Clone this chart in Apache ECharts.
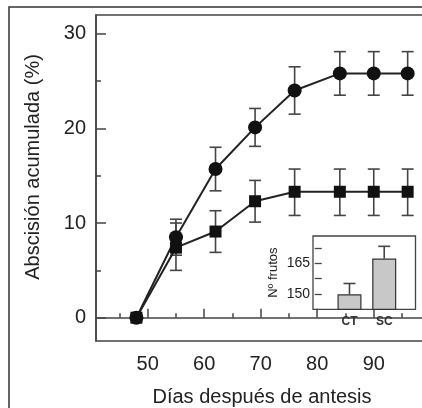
<!DOCTYPE html>
<html>
<head>
<meta charset="utf-8">
<script src="https://cdn.jsdelivr.net/npm/echarts@6/dist/echarts.min.js"></script>
<style>
html, body { margin: 0; padding: 0; background: #fff; }
#chart { width: 422px; height: 408px; }
</style>
</head>
<body>
<div id="chart"></div>
<script>
// días después de antesis
var days = [48, 55, 62, 69, 76, 84, 90, 96];

// serie de círculos
var roundMean = [0, 8.5, 15.7, 20.1, 24.0, 25.8, 25.8, 25.8];
var roundLow  = [0, 6.6, 13.4, 18.1, 21.5, 23.5, 23.5, 23.5];
var roundHigh = [0, 10.4, 18.0, 22.1, 26.5, 28.1, 28.1, 28.1];

// serie de cuadrados
var squareMean = [0, 7.4, 9.1, 12.3, 13.3, 13.3, 13.3, 13.3];
var squareLow  = [0, 5.0, 6.9, 10.1, 10.8, 10.8, 10.8, 10.8];
var squareHigh = [0, 10.0, 11.3, 14.5, 15.7, 15.7, 15.7, 15.7];

// recuadro: nº de frutos
var insetCats = ['CT', 'SC'];
var insetMean = [150, 167.3];
var insetHigh = [155.2, 173.2];

var xMajor = [50, 60, 70, 80, 90];
var xMinor = [45, 55, 65, 75, 85, 95];
var yMajor = [0, 10, 20, 30];
var yMinor = [5, 15, 25];
var insetTicks = [150, 157.5, 165, 172.5];
var insetLabels = [150, 165];

var FONT = 'Liberation Sans';

function pairs(xs, ys) {
	return xs.map(function (x, i) { return [x, ys[i]]; });
}
function triples(xs, lo, hi) {
	return xs.map(function (x, i) { return [x, lo[i], hi[i]]; });
}

function errorBar(capHalf, lowerCap, color) {
	return function (params, api) {
		var x = api.value(0);
		var lo = api.coord([x, api.value(1)]);
		var hi = api.coord([x, api.value(2)]);
		var style = { stroke: color, lineWidth: 1.6 };
		var kids = [
			{ type: 'line', shape: { x1: hi[0], y1: hi[1], x2: lo[0], y2: lo[1] }, style: style },
			{ type: 'line', shape: { x1: hi[0] - capHalf, y1: hi[1], x2: hi[0] + capHalf, y2: hi[1] }, style: style }
		];
		if (lowerCap) {
			kids.push({ type: 'line', shape: { x1: lo[0] - capHalf, y1: lo[1], x2: lo[0] + capHalf, y2: lo[1] }, style: style });
		}
		return { type: 'group', children: kids };
	};
}

var axisCol = '#444';
var txtCol = '#222';

var myChart = echarts.init(document.getElementById('chart'));
var option = {
	animation: false,
	backgroundColor: '#fff',
	graphic: [{
		type: 'rect',
		shape: { x: 9, y: 7, width: 440, height: 430 },
		style: { fill: null, stroke: '#333', lineWidth: 1.5 }
	}],
	grid: [
		{ left: 96, top: 15, width: 332, height: 326, outerBoundsMode: 'none', containLabel: false,
			show: true, borderColor: axisCol, borderWidth: 1.5 },
		{ left: 313, top: 236, width: 102.5, height: 73.3, outerBoundsMode: 'none', containLabel: false,
			show: true, borderColor: axisCol, borderWidth: 1.3, backgroundColor: '#fff' }
	],
	xAxis: [{
		gridIndex: 0, type: 'value', min: 40.85, max: 99.6,
		axisLine: { lineStyle: { color: axisCol, width: 1.5 } },
		axisTick: { inside: true, length: 9, customValues: xMajor, lineStyle: { color: axisCol, width: 1.5 } },
		axisLabel: { customValues: xMajor, margin: 13, fontSize: 20, fontFamily: FONT, color: txtCol },
		splitLine: { show: false },
		name: 'Días después de antesis', nameLocation: 'middle', nameGap: 46,
		nameTextStyle: { fontSize: 20, fontFamily: FONT, color: txtCol }
	}, {
		gridIndex: 0, type: 'value', min: 40.85, max: 99.6, position: 'bottom',
		axisLine: { show: false },
		axisTick: { inside: true, length: 4.5, customValues: xMinor, lineStyle: { color: axisCol, width: 1.5 } },
		axisLabel: { show: false },
		splitLine: { show: false }
	}, {
		gridIndex: 1, type: 'value', min: -0.05, max: 2.9,
		axisLine: { show: false },
		axisTick: { show: false },
		axisLabel: {
			customValues: [1, 2], margin: 6, fontSize: 12, fontWeight: 'bold', fontFamily: FONT, color: '#333',
			formatter: function (v) { return insetCats[Math.round(v) - 1]; }
		},
		splitLine: { show: false }
	}],
	yAxis: [{
		gridIndex: 0, type: 'value', min: -2.46, max: 31.97,
		axisLine: { lineStyle: { color: axisCol, width: 1.5 } },
		axisTick: { inside: true, length: 10, customValues: yMajor, lineStyle: { color: axisCol, width: 1.5 } },
		axisLabel: { customValues: yMajor, margin: 10, fontSize: 20, fontFamily: FONT, color: txtCol },
		splitLine: { show: false },
		name: 'Abscisión acumulada (%)', nameLocation: 'middle', nameGap: 53,
		nameTextStyle: { fontSize: 20, fontFamily: FONT, color: txtCol, padding: [0, 0, 0, 22] }
	}, {
		gridIndex: 0, type: 'value', min: -2.46, max: 31.97, position: 'left',
		axisLine: { show: false },
		axisTick: { inside: true, length: 5, customValues: yMinor, lineStyle: { color: axisCol, width: 1.5 } },
		axisLabel: { show: false },
		splitLine: { show: false }
	}, {
		gridIndex: 1, type: 'value', min: 142.7, max: 178.2,
		axisLine: { show: false },
		axisTick: { inside: true, length: 7, customValues: insetTicks, lineStyle: { color: axisCol, width: 1.3 } },
		axisLabel: { customValues: insetLabels, margin: 3, fontSize: 14, fontFamily: FONT, color: txtCol },
		splitLine: { show: false },
		name: 'Nº frutos', nameLocation: 'middle', nameGap: 33,
		nameTextStyle: { fontSize: 13, fontFamily: FONT, color: txtCol }
	}],
	series: [{
		type: 'custom', xAxisIndex: 0, yAxisIndex: 0, z: 2,
		renderItem: errorBar(6, true, '#444'),
		encode: { x: 0, y: [1, 2] },
		data: triples(days, roundLow, roundHigh)
	}, {
		type: 'custom', xAxisIndex: 0, yAxisIndex: 0, z: 2,
		renderItem: errorBar(6, true, '#444'),
		encode: { x: 0, y: [1, 2] },
		data: triples(days, squareLow, squareHigh)
	}, {
		type: 'line', xAxisIndex: 0, yAxisIndex: 0, z: 3,
		symbol: 'circle', symbolSize: 14,
		itemStyle: { color: '#111' },
		lineStyle: { color: '#222', width: 2 },
		data: pairs(days, roundMean)
	}, {
		type: 'line', xAxisIndex: 0, yAxisIndex: 0, z: 3,
		symbol: 'rect', symbolSize: 12,
		itemStyle: { color: '#111' },
		lineStyle: { color: '#222', width: 2 },
		data: pairs(days, squareMean)
	}, {
		type: 'custom', xAxisIndex: 2, yAxisIndex: 2, z: 2,
		renderItem: errorBar(6, false, '#444'),
		encode: { x: 0, y: [1, 2] },
		data: triples([1, 2], insetMean, insetHigh)
	}, {
		type: 'bar', xAxisIndex: 2, yAxisIndex: 2, z: 3,
		barWidth: 24,
		itemStyle: { color: '#c8c8c8', borderColor: '#333', borderWidth: 1.2 },
		data: pairs([1, 2], insetMean)
	}]
};
myChart.setOption(option);
</script>
</body>
</html>
